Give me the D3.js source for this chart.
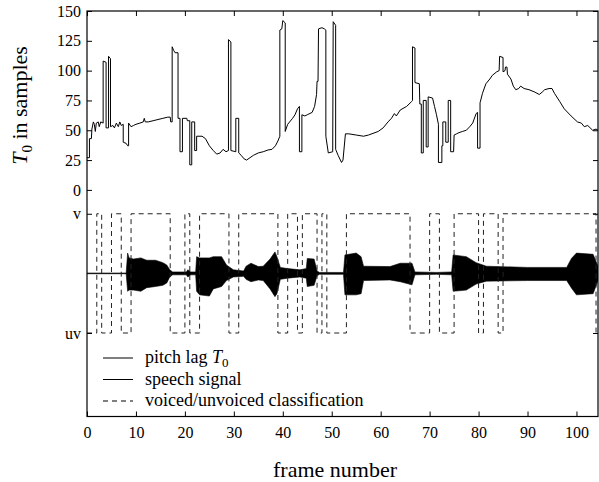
<!DOCTYPE html>
<html>
<head>
<meta charset="utf-8">
<script src="https://cdn.jsdelivr.net/npm/d3@7"></script>
<style>
  body { margin: 0; background: #fff; }
  svg text { font-family: "Liberation Serif", "Times New Roman", serif; fill: #000; }
</style>
</head>
<body>
<svg id="chart" width="599" height="482" font-family="Liberation Serif"></svg>
<script>
// pitch lag T0 in samples, [frame, value] (vertical jumps repeat the frame)
const pitchLag = [
  [0, 27], [0.5, 27], [0.5, 43], [0.9, 43], [1.0, 51], [1.3, 57], [1.5, 55], [1.7, 49], [1.9, 56],
  [2.3, 57], [2.5, 53], [2.8, 57], [3.3, 56], [3.3, 108], [3.9, 107], [3.9, 52], [4.4, 52],
  [4.4, 112], [4.8, 110], [4.8, 53], [5.3, 54], [5.6, 52], [6.0, 56], [6.4, 53], [6.7, 57],
  [7.0, 54], [7.4, 55], [7.4, 40], [8.0, 39], [8.3, 37], [8.5, 37], [8.5, 56], [9.0, 53],
  [9.5, 54], [10.0, 55], [10.8, 56], [11.5, 57], [11.7, 60], [11.9, 57], [12.5, 57], [13.5, 58],
  [14.5, 59], [15.5, 60], [16.5, 61], [17.0, 61], [17.1, 57], [17.4, 57], [17.4, 120], [17.7, 117],
  [18.0, 115], [18.6, 115], [18.6, 60], [19.0, 60], [19.0, 32], [19.5, 32], [19.5, 60], [20.4, 60],
  [20.5, 58], [21.0, 58], [21.0, 21], [21.4, 21], [21.4, 57], [22.0, 57], [22.0, 33], [22.4, 33],
  [22.4, 45], [23.5, 45], [24.2, 43], [25.0, 37], [25.8, 33], [26.5, 30], [27.2, 31], [27.8, 34],
  [28.4, 32], [28.9, 33], [28.9, 126], [29.4, 124], [29.4, 33], [30.4, 32], [30.4, 60], [31.0, 60],
  [31.0, 31], [31.5, 29], [32.1, 26], [32.6, 25], [33.3, 27], [34.0, 29], [35.0, 31], [36.0, 32],
  [37.0, 33.5], [37.8, 34], [38.5, 37], [39.0, 41], [39.4, 45], [39.4, 134], [39.8, 135], [40.0, 142],
  [40.5, 140], [40.5, 49], [41.0, 55], [42.0, 60], [42.5, 63], [43.0, 68], [43.4, 70], [43.4, 32],
  [43.9, 32], [43.9, 63], [44.5, 62], [45.0, 63], [46.0, 65], [46.5, 70], [46.9, 80], [47.0, 91],
  [47.2, 91], [47.3, 135], [48.0, 136], [48.5, 135], [48.8, 134], [48.8, 45], [49.3, 31], [50.2, 32],
  [50.3, 141], [50.8, 138], [50.8, 34], [51.3, 29], [52.0, 23], [52.3, 25], [52.8, 47], [53.5, 47],
  [55.0, 46], [56.5, 45], [57.5, 46], [59.5, 49], [60.5, 52], [61.5, 57], [62.2, 60], [62.8, 64],
  [63.2, 62], [64.0, 67], [65.3, 70], [66.3, 74], [66.5, 75], [66.5, 120], [67.0, 119], [67.0, 90],
  [67.9, 89], [68.0, 72], [68.3, 72], [68.3, 31], [68.7, 31], [68.7, 75], [69.3, 75], [69.3, 36],
  [69.7, 36], [69.7, 78], [70.6, 77], [71.0, 70], [71.4, 63], [71.8, 55], [71.8, 23], [72.5, 23],
  [72.5, 37], [72.7, 37], [72.7, 57], [73.3, 57], [73.3, 40], [73.8, 40], [73.8, 75], [74.3, 75],
  [74.3, 32], [74.9, 32], [75.0, 46], [75.5, 47], [76.0, 48], [76.7, 49], [77.5, 50], [78.2, 53],
  [78.8, 56], [79.5, 64], [79.8, 65], [79.8, 35], [80.3, 35], [80.3, 73], [80.8, 81], [81.5, 89],
  [82.3, 93], [82.8, 96], [83.7, 99], [84.2, 100], [84.3, 112], [85.0, 111], [85.0, 99], [85.4, 100],
  [85.5, 103], [85.8, 103], [85.9, 97], [86.6, 93], [87.1, 87], [87.6, 84], [88.2, 85], [88.6, 87],
  [89.3, 85], [90.3, 84], [91.5, 82], [92.4, 80], [93.0, 82], [93.5, 84], [94.4, 85], [95.0, 85],
  [95.5, 81], [96.6, 74], [97.5, 68], [98.9, 62], [100.2, 57], [101.0, 56], [101.6, 53], [102.3, 54],
  [103.3, 50], [104.0, 51], [104.4, 50]
];

// speech signal envelope: frame, upper and lower excursion around the signal baseline
const speechBaseline = -70;
const speechFrames = [0, 8.0, 8.3, 8.6, 9.5, 11, 12.2, 14, 15.5, 16.3, 16.9, 17.5, 20.3, 20.6, 21.2, 22.2,
  22.4, 23, 25, 25.8, 27.5, 28.5, 29.9, 32, 32.5, 33.5, 35, 36, 37.4, 38.4, 38.8, 39.5, 41, 43.5,
  44.8, 45, 46.4, 47, 47.5, 52.4, 52.7, 55, 56, 56.5, 61.9, 64, 66.4, 67, 71.4, 74.5, 74.8, 77.5,
  79.5, 81.6, 90, 98, 99, 100, 103.4, 104.4];
const speechUpper = [0.3, 0.3, 17, 13, 12, 13, 11, 11, 9, 7, 3, 1.2, 1.2, 3, 1.2, 1.2,
  14, 13, 13, 14, 14, 7, 3, 2, 6, 8.5, 5.7, 6, 12, 18, 14, 5, 4, 3,
  4, 12.5, 12, 2, 0.8, 0.8, 15.5, 17, 14, 6, 5.7, 8.5, 8.5, 1.2, 0.8, 1.2, 15.5, 14,
  9, 6, 5, 5, 12.7, 17, 16, 6];
const speechLower = [-0.3, -0.3, -15, -14, -14, -15, -12, -11, -10, -8, -3, -1.2, -1.2, -3, -1.2, -1.2,
  -15, -18, -19, -13, -11, -6, -3, -2.5, -5, -7, -5.5, -6, -13, -19.5, -17, -5, -4, -3,
  -4, -11, -10, -2, -0.8, -0.8, -18, -18, -17, -6, -5.5, -7, -9.6, -1.2, -0.8, -1.2, -15, -14,
  -9, -6.5, -6, -6, -12.4, -18, -17, -6];

// voiced / unvoiced decision, value holds from each frame to the next
const vuvFrames = [0, 2, 3, 5, 7, 9, 17, 20, 21, 23, 29, 31, 39, 41, 43, 44, 47, 48, 49, 53,
  66, 70, 72, 75, 80, 81, 84, 85, 104, 104.4];
const vuvState = ["uv", "v", "uv", "v", "uv", "v", "uv", "v", "uv", "v", "uv", "v", "uv", "v", "uv", "v",
  "uv", "v", "uv", "v", "uv", "v", "uv", "v", "uv", "v", "uv", "v", "uv", "uv"];
const vuvLevel = { v: -20, uv: -120 };

const xTicks = [0, 10, 20, 30, 40, 50, 60, 70, 80, 90, 100];
const yTicks = [-120, -20, 0, 25, 50, 75, 100, 125, 150];
const yTickLabels = { "-120": "uv", "-20": "v" };

const svg = d3.select("#chart");
const x = d3.scaleLinear().domain([0, 104.4]).range([87, 598]);
const y = d3.scaleLinear().domain([-190, 150]).range([416.5, 11]);
const [x0, x1] = x.range();
const [yB, yT] = y.range();

svg.append("defs").append("clipPath").attr("id", "plotClip")
  .append("rect").attr("x", x0).attr("y", yT).attr("width", x1 - x0).attr("height", yB - yT);

const plot = svg.append("g").attr("clip-path", "url(#plotClip)");

// speech signal (drawn as its envelope)
const speechArea = d3.area()
  .x((d, i) => x(speechFrames[i]))
  .y0((d, i) => y(speechBaseline + speechLower[i]))
  .y1((d, i) => y(speechBaseline + speechUpper[i]));
plot.append("path")
  .datum(speechFrames)
  .attr("d", speechArea)
  .attr("fill", "#000")
  .attr("stroke", "#000")
  .attr("stroke-width", 0.6);

// voiced/unvoiced classification
const vuvLine = d3.line()
  .curve(d3.curveStepAfter)
  .x((d, i) => x(vuvFrames[i]))
  .y((d, i) => y(vuvLevel[vuvState[i]]));
plot.append("path")
  .datum(vuvFrames)
  .attr("d", vuvLine)
  .attr("fill", "none")
  .attr("stroke", "#222")
  .attr("stroke-width", 1)
  .attr("stroke-dasharray", "5,4");

// pitch lag
const pitchLine = d3.line().x(d => x(d[0])).y(d => y(d[1]));
plot.append("path")
  .datum(pitchLag)
  .attr("d", pitchLine)
  .attr("fill", "none")
  .attr("stroke", "#000")
  .attr("stroke-width", 1);

// axes, ticks point inward on all four sides
function styleAxis(g) {
  g.select(".domain").remove();
  g.attr("font-family", "Liberation Serif").attr("font-size", null);
  g.selectAll("line").attr("stroke", "#000");
  g.selectAll("text").style("font-size", "16px");
}

svg.append("g")
  .attr("transform", `translate(0,${yB})`)
  .call(d3.axisBottom(x).tickValues(xTicks).tickSize(-5).tickPadding(10))
  .call(styleAxis);
svg.append("g")
  .attr("transform", `translate(0,${yT})`)
  .call(d3.axisTop(x).tickValues(xTicks).tickSize(-5).tickFormat(() => ""))
  .call(styleAxis);
svg.append("g")
  .attr("transform", `translate(${x0},0)`)
  .call(d3.axisLeft(y).tickValues(yTicks).tickSize(-5).tickPadding(6)
    .tickFormat(d => yTickLabels[d] || d))
  .call(styleAxis);
svg.append("g")
  .attr("transform", `translate(${x1},0)`)
  .call(d3.axisRight(y).tickValues(yTicks).tickSize(-5).tickFormat(() => ""))
  .call(styleAxis);

svg.append("rect")
  .attr("x", x0).attr("y", yT)
  .attr("width", x1 - x0).attr("height", yB - yT)
  .attr("fill", "none").attr("stroke", "#000").attr("stroke-width", 1.2);

// axis labels
svg.append("text")
  .attr("x", 335).attr("y", 477)
  .attr("text-anchor", "middle")
  .style("font-size", "22px")
  .text("frame number");

const yLab = svg.append("text")
  .attr("transform", `translate(27,${(y(0) + y(150)) / 2 + 5}) rotate(-90)`)
  .attr("text-anchor", "middle")
  .style("font-size", "22px");
yLab.append("tspan").attr("font-style", "italic").text("T");
yLab.append("tspan").attr("dy", 5).style("font-size", "15px").text("0");
yLab.append("tspan").attr("dy", -5).text(" in samples");

// legend
const legendItems = [
  { label: "pitch lag", sub: true, dash: null },
  { label: "speech signal", sub: false, dash: null },
  { label: "voiced/unvoiced classification", sub: false, dash: "5,4" }
];
const legend = svg.append("g");
legendItems.forEach((item, i) => {
  const ly = 358 + i * 21.5;
  legend.append("line")
    .attr("x1", 103).attr("x2", 133).attr("y1", ly).attr("y2", ly)
    .attr("stroke", "#000").attr("stroke-width", 1)
    .attr("stroke-dasharray", item.dash);
  const t = legend.append("text")
    .attr("x", 145).attr("y", ly + 5)
    .style("font-size", "18px");
  t.append("tspan").text(item.label + (item.sub ? " " : ""));
  if (item.sub) {
    t.append("tspan").attr("font-style", "italic").text("T");
    t.append("tspan").attr("dy", 4).style("font-size", "13px").text("0");
  }
});
</script>
</body>
</html>
